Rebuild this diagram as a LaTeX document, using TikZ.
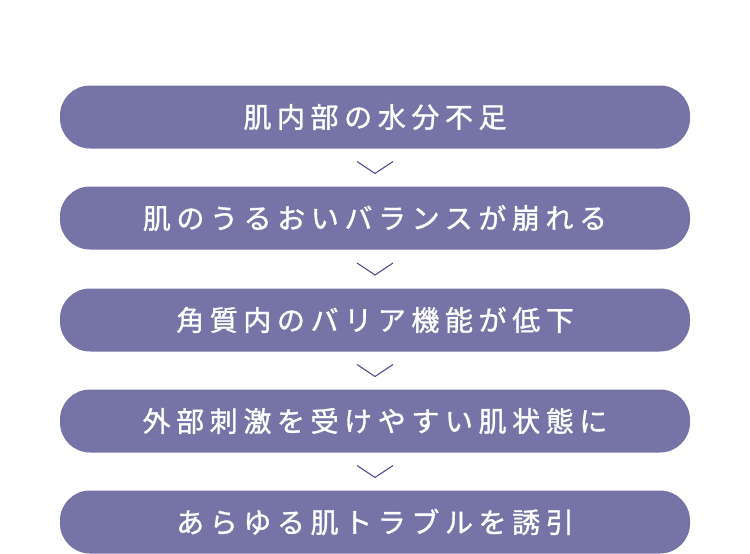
\documentclass[tikz,border=0pt]{standalone}
\usepackage{fontspec}
\usetikzlibrary{calc}
\newfontfamily\jp[LetterSpace=20,FakeBold=1.2]{Noto Sans CJK JP}
\definecolor{boxc}{HTML}{7673A7}
\definecolor{chev}{HTML}{4A4690}
\begin{document}
\begin{tikzpicture}[x=1pt,y=-1pt,
  stepbox/.style={fill=boxc,draw=none,rounded corners=30pt,minimum width=630pt,minimum height=63pt,inner sep=0pt,text=white,font=\jp\fontsize{28}{32}\selectfont},
  chevline/.style={draw=chev,line width=1pt}]
\useasboundingbox (0,0) rectangle (750,554);
\node[stepbox] (b1) at (375,117) {肌内部の水分不足};
\node[stepbox] (b2) at (375,218) {肌のうるおいバランスが崩れる};
\node[stepbox] (b3) at (375,320) {角質内のバリア機能が低下};
\node[stepbox] (b4) at (375,421) {外部刺激を受けやすい肌状態に};
\node[stepbox] (b5) at (375,522) {あらゆる肌トラブルを誘引};
\foreach \a/\b in {b1/b2,b2/b3,b3/b4,b4/b5}{
  \coordinate (m) at ($(\a.south)!0.5!(\b.north)$);
  \draw[chevline] ([shift={(-18,-6)}]m) -- ([shift={(0,6)}]m) -- ([shift={(18,-6)}]m);
}
\end{tikzpicture}
\end{document}
